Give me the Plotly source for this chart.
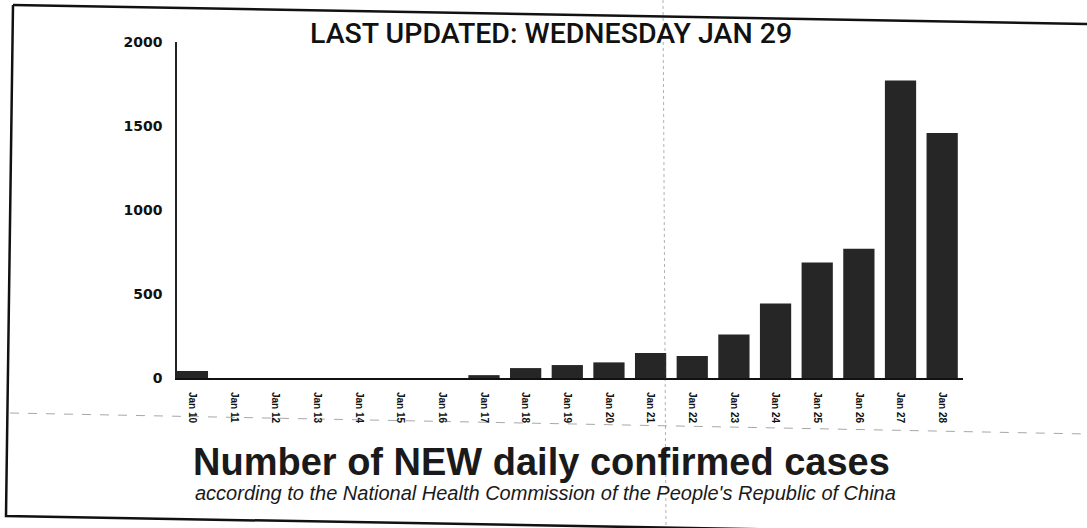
import plotly.graph_objects as go

# ---- data ----
categories = ["Jan 10", "Jan 11", "Jan 12", "Jan 13", "Jan 14", "Jan 15", "Jan 16",
              "Jan 17", "Jan 18", "Jan 19", "Jan 20", "Jan 21", "Jan 22", "Jan 23",
              "Jan 24", "Jan 25", "Jan 26", "Jan 27", "Jan 28"]
new_cases = [41, 0, 0, 0, 0, 0, 0, 17, 59, 77, 93, 149, 131, 259, 444, 688, 769, 1771, 1459]
y_ticks = [0, 500, 1000, 1500, 2000]

title_text = "LAST UPDATED: WEDNESDAY JAN 29"
main_title = "<b>Number of NEW daily confirmed cases</b>"
sub_title = "<i>according to the National Health Commission of the People's Republic of China</i>"

W, H = 1087, 528
L, R, T, B = 177, 963, 42, 378  # plot area in pixels


def px(x):
    return (x - L) / (R - L)


def py(y):
    return (B - y) / (B - T)


fig = go.Figure()
fig.add_trace(go.Bar(
    x=categories, y=new_cases,
    marker=dict(color="#262626", line=dict(width=0)),
    hoverinfo="x+y",
))

shapes = [
    # page frame (slightly tilted scan)
    dict(type="path", xref="paper", yref="paper",
         path=f"M {px(13)} {py(5)} L {px(1087)} {py(24)}",
         line=dict(color="#111111", width=2.5)),
    dict(type="path", xref="paper", yref="paper",
         path=f"M {px(13)} {py(5)} L {px(6)} {py(516)} L {px(1087)} {py(535)}",
         line=dict(color="#111111", width=2.5)),
    # fold lines
    dict(type="line", xref="paper", yref="paper",
         x0=px(663), y0=py(0), x1=px(666), y1=py(528),
         line=dict(color="rgba(60,60,60,0.4)", width=1, dash="dot")),
    dict(type="line", xref="paper", yref="paper",
         x0=px(10), y0=py(413), x1=px(1087), y1=py(434),
         line=dict(color="rgba(60,60,60,0.45)", width=1, dash="dash")),
]

annotations = [
    dict(text=title_text, xref="paper", yref="paper", x=px(551), y=py(33),
         showarrow=False, xanchor="center", yanchor="middle",
         font=dict(family="Roboto", size=28.5, color="#111111", weight=500)),
    dict(text=main_title, xref="paper", yref="paper", x=px(541), y=py(462),
         showarrow=False, xanchor="center", yanchor="middle",
         font=dict(family="Liberation Sans", size=38, color="#1a1a1a")),
    dict(text=sub_title, xref="paper", yref="paper", x=px(545), y=py(493),
         showarrow=False, xanchor="center", yanchor="middle",
         font=dict(family="Liberation Sans", size=20, color="#1a1a1a")),
]

fig.update_layout(
    width=W, height=H,
    margin=dict(l=L, r=W - R, t=T, b=H - B, pad=0),
    paper_bgcolor="white", plot_bgcolor="white",
    bargap=0.25,
    showlegend=False,
    shapes=shapes,
    annotations=annotations,
    xaxis=dict(
        type="category", range=[-0.37, 18.5],
        showline=True, linecolor="#111111", linewidth=2,
        showgrid=False, zeroline=False,
        ticks="outside", ticklen=10, tickcolor="rgba(0,0,0,0)",
        tickangle=90,
        tickfont=dict(family="Liberation Sans Narrow, Liberation Sans", size=10,
                      color="#111111", weight="bold"),
    ),
    yaxis=dict(
        range=[0, 2000], tickvals=y_ticks,
        showline=True, linecolor="#222222", linewidth=1.5,
        showgrid=False, zeroline=False,
        ticks="outside", ticklen=10, tickcolor="rgba(0,0,0,0)",
        tickfont=dict(family="DejaVu Sans", size=14, color="#111111", weight="bold"),
    ),
)

fig.write_html("out.html", config={"displayModeBar": False},
               post_script="document.body.style.margin='0';")
